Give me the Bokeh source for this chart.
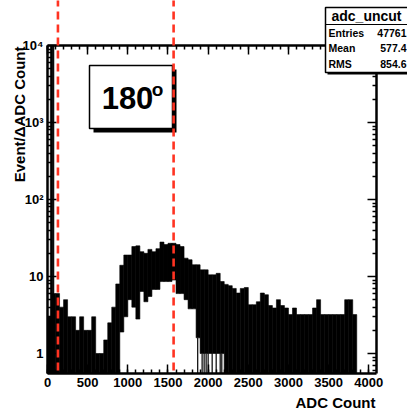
import math
from bokeh.plotting import figure
from bokeh.models import (Range1d, LogAxis, LinearAxis, FixedTicker, SingleIntervalTicker,
                          Label, CustomJSTickFormatter, ColumnDataSource)
from bokeh.embed import file_html
from bokeh.resources import INLINE

# ---------------- data ----------------
GROUP_W = 50
adc_low = list(range(0, 3850, GROUP_W))          # 50-ADC groups of the fine-binned histogram
upper = [3, 6, 6, 4, 5, 3, 3, 2, 3, 2,
         2, 3, 1, 1, 1.5, 2.5, 4, 8, 14, 19,
         19, 24.5, 25, 21, 20, 22.5, 21, 23, 28, 26,
         27, 27, 26, 24.5, 17.3, 16.5, 14.2, 14.2, 12.2, 12.2,
         10.5, 10.5, 11, 8.6, 7.9, 7.6, 7.0, 6.1, 7, 7.2,
         4.3, 4.3, 4.7, 6.1, 5.8, 4.2, 3.9, 5, 4.2, 3.9,
         3.2, 3.9, 3.2, 3.2, 3.2, 3.2, 3.9, 5, 3.2, 3.2,
         3.2, 3.2, 3.2, 3.2, 5, 5, 3.2]
lower = [0, 0, 0, 0, 0, 0, 0, 0, 0, 0,
         0, 0, 0, 0, 0, 0, 0, 0, 1.9, 3,
         5, 4, 2.8, 6.4, 4.7, 5.5, 6.8, 6.8, 8.6, 8.6,
         8.6, 9, 6, 6, 5, 3.8, 3.8, 1.6, 1, 1,
         1, 1, 1, 1, 0, 0, 0, 0, 0, 0,
         0, 0, 0, 0, 0, 0, 0, 0, 0, 0,
         0, 0, 0, 0, 0, 0, 0, 0, 0, 0,
         0, 0, 0, 0, 0, 0, 0]
ped_low = [35, 60]          # pedestal peak
ped_high = [60, 80]
ped_counts = [12000, 11000]
empty_bins = [1870, 1925, 1950, 1975, 2000, 2050, 2100, 2150, 2170]
cut_lines = [130, 1570]
stats = [("Entries", "47761"), ("Mean", "577.4"), ("RMS", "854.6")]
y_ticks = [1, 10, 100, 1000, 10000]

# ---------------- layout constants (canvas px) ----------------
W, H = 407, 411
FL, FR, FT, FB = 47, 376, 45, 373          # visual frame box on the canvas
X0, X1 = 0, 4096
Y_LO, Y_HI = 0.55, 1e4
FONT = "Liberation Sans"
RED = "#ff3322"

kx = (FR - FL) / (X1 - X0)                     # px per ADC
ky = (FB - FT) / (math.log10(Y_HI) - math.log10(Y_LO))   # px per decade


def dx(cx):           # canvas x -> data x
    return X0 + (cx - FL) / kx


def dy(cy):           # canvas y -> data y (log)
    return 10 ** (math.log10(Y_HI) - (cy - FT) / ky)


p = figure(width=W, height=H, x_range=Range1d(dx(0), dx(W)), y_range=Range1d(dy(H), dy(0)),
           y_axis_type="log", output_backend="svg", toolbar_location=None,
           min_border=0)
p.xgrid.visible = False
p.ygrid.visible = False
p.outline_line_color = None
p.background_fill_color = "white"
p.border_fill_color = "white"

# histogram envelope
floor = Y_LO
src = ColumnDataSource(dict(
    left=adc_low,
    right=[a + GROUP_W for a in adc_low],
    top=upper,
    bottom=[l if l > 0 else floor for l in lower],
))
p.quad(left="left", right="right", top="top", bottom="bottom", source=src,
       fill_color="black", line_color="black", line_width=0.6)
p.quad(left=ped_low, right=ped_high, top=[min(c, Y_HI) for c in ped_counts],
       bottom=[floor] * len(ped_counts),
       fill_color="black", line_color="black", line_width=0.6)
eb_top = []
for e in empty_bins:
    i = adc_low.index((e // GROUP_W) * GROUP_W)
    eb_top.append(max(lower[i], 1))
p.segment(x0=empty_bins, x1=empty_bins, y0=[floor] * len(empty_bins), y1=eb_top,
          line_color="black", line_width=1.2)

# ---------------- boxes (drawn above the axes) ----------------
def box(l, t, r, b, fill, line=None, lw=1.0):
    p.quad(left=dx(l), right=dx(r), top=dy(t), bottom=dy(b),
           fill_color=fill, line_color=line, line_width=lw, level="annotation")


# "180 o" box
box(93, 69, 176, 132, "black")
box(89, 65, 172, 128, "white", "black", 1.5)

# stats box
box(327, 9, 414, 74, "black")
box(325, 7, 412, 72, "white", "black", 1.5)
box(325, 23.5, 412, 24.5, "black")

# red dashed cut lines (extend above the frame)
p.segment(x0=cut_lines, x1=cut_lines, y0=[dy(370)] * len(cut_lines),
          y1=[dy(0)] * len(cut_lines), line_color=RED, line_width=2.6, line_dash="8 5",
          level="annotation")

# ---------------- axes ----------------
xticker = SingleIntervalTicker(interval=500, num_minor_ticks=5)
minor_y = []
for d in [0.1, 1, 10, 100, 1000]:
    for m in range(2, 10):
        if Y_LO < d * m < Y_HI:
            minor_y.append(d * m)
yticker = FixedTicker(ticks=y_ticks, minor_ticks=minor_y)

ylab = CustomJSTickFormatter(code="""
const e = Math.round(Math.log10(tick));
if (e == 0) return "1";
if (e == 1) return "10";
const s = {2: "\u00b2", 3: "\u00b3", 4: "\u2074"};
return "10" + s[e];
""")
blank = CustomJSTickFormatter(code="return '';")


def style(ax):
    ax.axis_line_width = 2.5
    ax.axis_line_color = "black"
    ax.major_tick_in = 9
    ax.major_tick_out = 0
    ax.minor_tick_in = 4
    ax.minor_tick_out = 0
    ax.major_tick_line_width = 1.5
    ax.minor_tick_line_width = 1.5
    ax.major_tick_line_color = "black"
    ax.minor_tick_line_color = "black"
    ax.major_label_text_font = FONT
    ax.major_label_text_font_style = "bold"
    ax.major_label_text_font_size = "13px"
    ax.major_label_text_color = "black"
    ax.major_label_standoff = 4


xb = p.xaxis[0]
xb.ticker = xticker
xb.fixed_location = Y_LO
xb.bounds = (X0, X1)
style(xb)
yl = p.yaxis[0]
yl.ticker = yticker
yl.formatter = ylab
yl.fixed_location = X0
yl.bounds = (Y_LO, Y_HI)
style(yl)

xt = LinearAxis(ticker=xticker, formatter=blank, fixed_location=Y_HI, bounds=(X0, X1))
style(xt)
p.add_layout(xt, "above")
yr = LogAxis(ticker=yticker, formatter=blank, fixed_location=X1, bounds=(Y_LO, Y_HI))
style(yr)
p.add_layout(yr, "right")

# ---------------- texts ----------------
def text(cx, cy, s, size, align="center", angle=0.0):
    p.add_layout(Label(x=dx(cx), y=dy(cy), text=s, angle=angle, text_font=FONT,
                       text_font_style="bold", text_font_size=size, text_color="black",
                       text_align=align, text_baseline="middle"))


text(375, 402, "ADC Count", "15px", "right")
text(19, 46, "Event/\u0394ADC Count", "15px", "right", math.pi / 2)
text(127, 97, "180", "31px")
text(157, 89, "o", "19px")
text(366, 15.5, "adc_uncut", "14px")
for k, (name, val) in enumerate(stats):
    yy = 32 + k * 15.5
    text(328, yy, name, "10.5px", "left")
    text(406, yy, val, "10.5px", "right")

open("out.html", "w").write(file_html(p, INLINE))
